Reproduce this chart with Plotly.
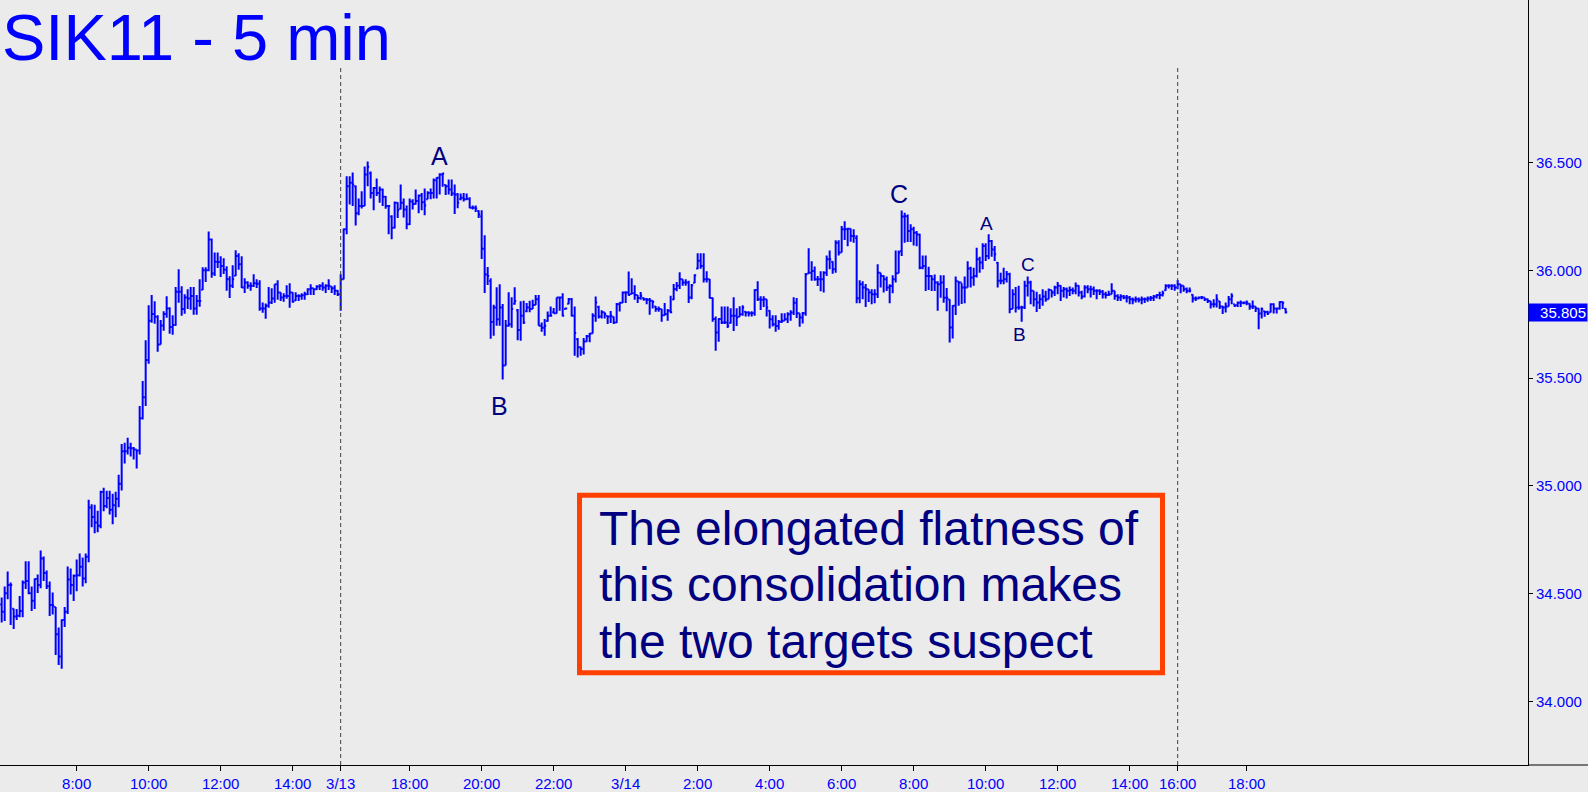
import plotly.graph_objects as go

# ---------------- data (5-minute OHLC bars, SIK11) ----------------
highs = [
34.483,34.534,34.603,34.552,34.432,34.429,34.489,34.562,34.651,34.651,34.534,34.571,34.589,34.700,34.673,34.608,34.557,34.506,34.438,34.344,
34.381,34.438,34.626,34.617,34.589,34.659,34.687,34.668,34.687,34.936,34.915,34.913,34.885,34.978,34.992,34.978,34.978,34.964,34.973,35.052,
35.195,35.200,35.223,35.200,35.181,35.169,35.371,35.487,35.676,35.838,35.885,35.857,35.792,35.769,35.810,35.880,35.829,35.792,35.922,36.005,
35.926,35.889,35.912,35.922,35.922,35.885,35.959,36.014,36.014,36.180,36.148,36.083,36.083,36.065,36.056,36.019,35.972,36.023,36.093,36.079,
36.065,35.963,35.949,35.945,35.982,35.958,35.954,35.851,35.846,35.923,35.917,35.935,35.954,35.898,35.894,35.931,35.940,35.898,35.898,35.889,
35.894,35.900,35.917,35.935,35.917,35.931,35.935,35.945,35.935,35.958,35.926,35.931,35.909,35.982,36.194,36.436,36.436,36.453,36.393,36.333,
36.366,36.481,36.504,36.458,36.386,36.426,36.389,36.379,36.344,36.301,36.255,36.319,36.315,36.398,36.333,36.301,36.333,36.329,36.375,36.352,
36.359,36.379,36.367,36.379,36.426,36.432,36.450,36.452,36.398,36.421,36.421,36.398,36.358,36.356,36.359,36.356,36.339,36.301,36.301,36.278,
36.278,36.162,36.015,35.963,35.840,35.921,35.935,35.844,35.769,35.898,35.875,35.921,35.820,35.857,35.859,35.848,35.859,35.863,35.885,35.885,
35.758,35.774,35.809,35.832,35.825,35.874,35.879,35.894,35.828,35.871,35.871,35.832,35.686,35.647,35.686,35.700,35.709,35.801,35.879,35.835,
35.815,35.805,35.789,35.811,35.786,35.848,35.852,35.902,35.903,35.994,35.963,35.931,35.885,35.899,35.874,35.871,35.871,35.860,35.834,35.832,
35.820,35.848,35.820,35.882,35.936,35.946,35.991,35.959,35.959,35.951,35.937,35.982,36.079,36.079,36.079,35.996,35.960,35.874,35.786,35.778,
35.832,35.832,35.832,35.824,35.875,35.824,35.833,35.838,35.810,35.810,35.810,35.912,35.949,35.880,35.880,35.866,35.815,35.792,35.792,35.770,
35.801,35.801,35.806,35.815,35.875,35.872,35.801,35.807,35.988,36.102,36.042,36.018,35.974,35.995,35.995,36.069,36.092,36.042,36.139,36.139,
36.205,36.227,36.197,36.194,36.190,36.162,35.954,35.949,35.937,35.912,35.912,35.912,36.028,35.989,35.977,35.971,35.935,35.977,36.092,36.092,
36.277,36.267,36.259,36.213,36.202,36.182,36.169,36.069,36.069,36.017,35.977,35.980,35.949,35.977,35.977,35.918,35.866,35.838,35.971,35.949,
35.940,35.971,36.042,36.016,36.012,36.105,36.063,36.125,36.125,36.167,36.140,36.113,36.039,35.989,36.012,35.997,35.989,35.912,35.923,35.928,
35.835,35.951,35.971,35.951,35.905,35.900,35.889,35.912,35.905,35.915,35.909,35.928,35.946,35.931,35.923,35.920,35.925,35.920,35.943,35.931,
35.905,35.931,35.931,35.928,35.925,35.912,35.912,35.909,35.900,35.905,35.940,35.905,35.889,35.889,35.885,35.885,35.881,35.874,35.878,35.874,
35.878,35.874,35.878,35.881,35.885,35.889,35.900,35.905,35.935,35.935,35.935,35.935,35.955,35.935,35.928,35.920,35.920,35.889,35.878,35.878,
35.881,35.874,35.869,35.858,35.866,35.889,35.858,35.835,35.851,35.881,35.894,35.843,35.855,35.860,35.855,35.860,35.847,35.860,35.832,35.824,
35.827,35.812,35.812,35.847,35.847,35.827,35.857,35.855,35.824]

lows = [
34.367,34.374,34.475,34.355,34.337,34.378,34.391,34.391,34.522,34.498,34.420,34.429,34.503,34.525,34.559,34.522,34.397,34.404,34.216,34.170,
34.152,34.346,34.406,34.497,34.466,34.512,34.580,34.534,34.549,34.646,34.808,34.781,34.785,34.804,34.882,34.896,34.868,34.822,34.855,34.901,
34.979,35.104,35.146,35.137,35.123,35.081,35.146,35.308,35.371,35.567,35.757,35.752,35.622,35.656,35.720,35.780,35.706,35.701,35.743,35.849,
35.789,35.798,35.821,35.817,35.794,35.794,35.831,35.909,35.946,35.995,35.965,35.974,36.011,35.969,35.983,35.905,35.872,35.918,35.974,36.002,
35.918,35.895,35.914,35.905,35.923,35.918,35.812,35.803,35.775,35.826,35.844,35.849,35.863,35.858,35.854,35.868,35.826,35.849,35.858,35.858,
35.863,35.863,35.886,35.886,35.886,35.909,35.909,35.905,35.895,35.909,35.895,35.886,35.881,35.812,35.957,36.167,36.305,36.298,36.208,36.255,
36.287,36.298,36.390,36.333,36.279,36.344,36.313,36.298,36.285,36.167,36.144,36.194,36.242,36.282,36.245,36.190,36.210,36.282,36.305,36.264,
36.279,36.255,36.329,36.329,36.333,36.333,36.352,36.387,36.349,36.352,36.344,36.261,36.288,36.325,36.319,36.325,36.288,36.282,36.270,36.242,
36.052,35.895,35.932,35.682,35.696,35.743,35.743,35.493,35.558,35.738,35.733,35.840,35.676,35.673,35.751,35.805,35.805,35.820,35.839,35.743,
35.715,35.697,35.761,35.786,35.800,35.800,35.812,35.786,35.818,35.843,35.786,35.604,35.596,35.604,35.609,35.669,35.666,35.707,35.761,35.777,
35.777,35.777,35.751,35.755,35.751,35.755,35.809,35.848,35.848,35.882,35.889,35.863,35.848,35.863,35.859,35.843,35.794,35.823,35.808,35.808,
35.761,35.789,35.766,35.801,35.862,35.903,35.913,35.928,35.928,35.848,35.866,35.940,36.005,36.007,35.943,35.943,35.869,35.761,35.627,35.669,
35.751,35.751,35.732,35.753,35.719,35.742,35.784,35.789,35.786,35.786,35.786,35.789,35.858,35.816,35.830,35.786,35.730,35.739,35.715,35.724,
35.756,35.766,35.756,35.766,35.793,35.779,35.738,35.753,35.789,35.984,35.952,35.952,35.927,35.903,35.897,35.974,36.005,35.984,35.989,36.069,
36.082,36.140,36.112,36.132,36.128,35.847,35.847,35.866,35.830,35.853,35.843,35.847,35.872,35.920,35.897,35.904,35.847,35.894,35.943,35.986,
36.066,36.128,36.131,36.131,36.115,36.112,36.005,36.005,35.904,35.909,35.904,35.904,35.812,35.873,35.850,35.810,35.665,35.684,35.793,35.835,
35.844,35.847,35.920,35.920,35.928,35.966,35.989,36.005,36.043,36.051,36.063,36.043,35.920,35.935,35.935,35.943,35.801,35.820,35.804,35.817,
35.761,35.820,35.878,35.843,35.832,35.807,35.820,35.835,35.854,35.866,35.874,35.881,35.889,35.858,35.874,35.869,35.881,35.889,35.889,35.878,
35.866,35.874,35.894,35.874,35.885,35.866,35.885,35.869,35.869,35.881,35.889,35.863,35.858,35.858,35.866,35.851,35.843,35.843,35.851,35.851,
35.843,35.848,35.854,35.858,35.858,35.869,35.866,35.878,35.905,35.915,35.909,35.905,35.912,35.894,35.900,35.894,35.897,35.851,35.858,35.866,
35.866,35.858,35.848,35.823,35.827,35.827,35.820,35.797,35.804,35.832,35.843,35.830,35.830,35.830,35.843,35.838,35.817,35.820,35.807,35.727,
35.776,35.784,35.793,35.804,35.800,35.800,35.817,35.820,35.800]

closes = [
34.417,34.502,34.540,34.540,34.394,34.398,34.420,34.552,34.559,34.502,34.468,34.568,34.540,34.663,34.596,34.535,34.448,34.445,34.312,34.209,
34.378,34.417,34.566,34.540,34.583,34.586,34.625,34.571,34.671,34.900,34.856,34.830,34.815,34.972,34.907,34.944,34.890,34.910,34.941,35.010,
35.161,35.161,35.177,35.175,35.169,35.164,35.314,35.411,35.584,35.766,35.797,35.784,35.656,35.744,35.797,35.823,35.737,35.746,35.900,35.900,
35.820,35.874,35.869,35.881,35.823,35.858,35.858,36.000,36.000,36.143,35.985,36.040,36.039,36.020,36.002,35.958,35.928,35.958,36.066,36.028,
35.920,35.943,35.928,35.928,35.940,35.938,35.823,35.823,35.835,35.851,35.869,35.935,35.897,35.874,35.881,35.881,35.897,35.854,35.881,35.881,
35.884,35.889,35.912,35.917,35.912,35.925,35.928,35.920,35.928,35.928,35.917,35.905,35.889,35.958,36.190,36.390,36.406,36.398,36.264,36.298,
36.298,36.444,36.480,36.359,36.382,36.359,36.375,36.341,36.298,36.298,36.197,36.313,36.278,36.313,36.282,36.213,36.319,36.308,36.321,36.347,
36.316,36.301,36.359,36.359,36.418,36.429,36.444,36.449,36.390,36.375,36.356,36.352,36.313,36.336,36.329,36.332,36.290,36.290,36.287,36.259,
36.100,35.980,35.974,35.760,35.827,35.773,35.827,35.558,35.743,35.750,35.820,35.858,35.723,35.789,35.758,35.828,35.820,35.839,35.866,35.743,
35.734,35.743,35.789,35.789,35.801,35.874,35.874,35.789,35.823,35.866,35.789,35.709,35.643,35.635,35.670,35.694,35.707,35.789,35.851,35.786,
35.805,35.797,35.786,35.789,35.758,35.843,35.850,35.897,35.897,35.886,35.894,35.885,35.872,35.882,35.866,35.863,35.859,35.854,35.820,35.820,
35.792,35.797,35.812,35.805,35.913,35.928,35.959,35.943,35.943,35.874,35.931,35.977,36.044,36.020,35.959,35.959,35.871,35.774,35.712,35.774,
35.758,35.758,35.743,35.789,35.789,35.781,35.796,35.827,35.804,35.801,35.801,35.909,35.866,35.863,35.866,35.827,35.773,35.750,35.742,35.761,
35.766,35.773,35.796,35.804,35.850,35.801,35.781,35.801,35.981,35.989,35.997,35.958,35.958,35.958,35.989,36.051,36.051,36.005,36.128,36.082,
36.190,36.190,36.193,36.159,36.159,35.870,35.935,35.920,35.912,35.897,35.889,35.889,35.989,35.974,35.958,35.920,35.927,35.958,35.986,36.082,
36.250,36.251,36.182,36.190,36.174,36.166,36.012,36.020,35.974,35.974,35.958,35.943,35.935,35.943,35.873,35.873,35.735,35.835,35.951,35.943,
35.920,35.920,36.008,35.966,35.974,36.051,36.036,36.113,36.066,36.136,36.097,36.074,35.951,35.951,35.959,35.982,35.820,35.889,35.827,35.827,
35.827,35.928,35.943,35.905,35.866,35.851,35.866,35.878,35.866,35.909,35.897,35.920,35.928,35.905,35.912,35.905,35.909,35.905,35.928,35.897,
35.878,35.920,35.912,35.912,35.905,35.905,35.900,35.889,35.885,35.889,35.905,35.881,35.874,35.878,35.874,35.874,35.866,35.863,35.866,35.863,
35.866,35.866,35.869,35.872,35.878,35.885,35.885,35.894,35.928,35.928,35.928,35.920,35.935,35.928,35.912,35.905,35.905,35.869,35.869,35.874,
35.874,35.866,35.858,35.843,35.843,35.866,35.832,35.827,35.832,35.866,35.881,35.838,35.850,35.850,35.850,35.850,35.832,35.832,35.823,35.800,
35.820,35.807,35.800,35.843,35.823,35.823,35.853,35.850,35.805]

opens = [
34.450,34.417,34.502,34.540,34.430,34.394,34.398,34.420,34.552,34.559,34.502,34.468,34.568,34.540,34.663,34.596,34.535,34.448,34.438,34.312,
34.209,34.378,34.417,34.566,34.540,34.583,34.586,34.625,34.571,34.671,34.900,34.856,34.830,34.815,34.972,34.907,34.944,34.890,34.910,34.941,
35.010,35.161,35.161,35.177,35.175,35.169,35.164,35.314,35.411,35.584,35.766,35.797,35.784,35.656,35.744,35.797,35.823,35.737,35.746,35.900,
35.900,35.820,35.874,35.869,35.881,35.823,35.858,35.910,36.000,36.000,36.143,35.985,36.040,36.039,36.020,36.002,35.958,35.928,35.975,36.066,
36.028,35.920,35.943,35.928,35.928,35.940,35.938,35.823,35.823,35.835,35.851,35.869,35.935,35.897,35.874,35.881,35.881,35.897,35.860,35.881,
35.881,35.884,35.889,35.912,35.917,35.912,35.925,35.928,35.920,35.928,35.925,35.917,35.905,35.889,35.958,36.190,36.390,36.406,36.390,36.264,
36.298,36.298,36.444,36.450,36.359,36.382,36.359,36.375,36.341,36.298,36.250,36.197,36.313,36.285,36.313,36.282,36.213,36.319,36.308,36.321,
36.347,36.316,36.330,36.359,36.359,36.418,36.429,36.444,36.395,36.390,36.375,36.356,36.352,36.330,36.336,36.329,36.332,36.290,36.290,36.275,
36.250,36.100,35.980,35.950,35.760,35.827,35.773,35.827,35.558,35.743,35.750,35.845,35.815,35.723,35.789,35.810,35.828,35.820,35.839,35.866,
35.743,35.734,35.765,35.789,35.805,35.801,35.874,35.874,35.820,35.845,35.866,35.789,35.680,35.643,35.635,35.670,35.694,35.707,35.789,35.830,
35.786,35.805,35.788,35.786,35.785,35.758,35.843,35.850,35.897,35.897,35.890,35.894,35.885,35.872,35.872,35.866,35.863,35.859,35.832,35.820,
35.820,35.792,35.797,35.812,35.865,35.913,35.928,35.959,35.943,35.943,35.874,35.942,36.008,36.044,36.020,35.959,35.959,35.871,35.774,35.712,
35.774,35.758,35.758,35.755,35.789,35.789,35.785,35.796,35.808,35.804,35.801,35.801,35.909,35.866,35.863,35.866,35.812,35.773,35.750,35.742,
35.761,35.766,35.773,35.796,35.804,35.850,35.801,35.781,35.801,35.985,35.989,35.997,35.958,35.958,35.958,35.989,36.051,36.040,36.005,36.128,
36.082,36.190,36.190,36.193,36.159,36.150,35.870,35.935,35.920,35.912,35.897,35.889,35.889,35.989,35.974,35.958,35.920,35.927,35.958,35.986,
36.090,36.250,36.251,36.182,36.190,36.174,36.166,36.012,36.020,35.974,35.974,35.958,35.943,35.935,35.943,35.873,35.865,35.735,35.835,35.948,
35.943,35.920,35.920,36.008,35.966,35.974,36.051,36.036,36.113,36.066,36.136,36.097,36.035,35.951,35.951,35.959,35.982,35.820,35.889,35.827,
35.827,35.827,35.928,35.943,35.905,35.866,35.851,35.866,35.878,35.866,35.909,35.897,35.920,35.928,35.905,35.912,35.905,35.909,35.905,35.928,
35.897,35.878,35.920,35.912,35.912,35.905,35.905,35.900,35.889,35.885,35.889,35.905,35.881,35.874,35.878,35.874,35.874,35.866,35.863,35.866,
35.863,35.866,35.866,35.869,35.872,35.878,35.885,35.885,35.907,35.928,35.928,35.928,35.920,35.935,35.928,35.912,35.905,35.887,35.869,35.869,
35.874,35.874,35.866,35.858,35.843,35.843,35.856,35.832,35.827,35.832,35.866,35.842,35.838,35.850,35.850,35.850,35.845,35.832,35.832,35.823,
35.800,35.810,35.807,35.805,35.843,35.823,35.823,35.853,35.822]

bar_index = list(range(len(closes)))

# x-axis time labels (bar index -> label)
tick_bars = [25, 49, 73, 97, 113, 136, 160, 184, 208, 232, 256, 280, 304, 328, 352, 376, 392, 415]
tick_labels = ["8:00", "10:00", "12:00", "14:00", "3/13", "18:00", "20:00", "22:00", "3/14",
               "2:00", "4:00", "6:00", "8:00", "10:00", "12:00", "14:00", "16:00", "18:00"]

# session separators (bar index)
session_breaks = [113, 392]

# price axis ticks
price_ticks = [34.0, 34.5, 35.0, 35.5, 36.0, 36.5]
last_price = 35.805

# wave labels: text, bar index, price, font size
wave_text = ["A", "B", "C", "A", "B", "C"]
wave_bar = [146.1, 165.8, 299.1, 328.4, 339.4, 342.1]
wave_price = [36.532, 35.371, 36.352, 36.217, 35.704, 36.028]
wave_size = [25, 25, 25, 19, 19, 19]

title_text = "SIK11 - 5 min"
note_lines = ["The elongated flatness of", "this consolidation makes", "the two targets suspect"]

# ---------------- styling ----------------
W, H = 1588, 792
ML, MR, MT, MB = 0, 60, 0, 25
PW, PH = W - ML - MR, H - MT - MB
BG = "rgb(235,235,235)"
BLUE = "#0000FF"
NAVY = "#000080"
FONT = "Liberation Sans, Arial, sans-serif"

def px_x(px):
    return px / PW

def px_y(py):
    return 1 - py / PH

fig = go.Figure()
fig.add_trace(go.Ohlc(
    x=bar_index, open=opens, high=highs, low=lows, close=closes,
    increasing=dict(line=dict(color=BLUE, width=2)),
    decreasing=dict(line=dict(color=BLUE, width=2)),
    tickwidth=0.5, hoverinfo="skip", showlegend=False,
))

shapes = []
for b in session_breaks:
    shapes.append(dict(type="line", xref="x", yref="paper", x0=b, x1=b,
                       y0=0, y1=px_y(67), line=dict(color="#404040", width=1, dash="4px,3px")))
# x-axis line continues under the price scale
shapes.append(dict(type="line", xref="paper", yref="paper", x0=1, x1=W / PW, y0=0, y1=0,
                   line=dict(color="black", width=1)))
# note box
shapes.append(dict(type="rect", xref="paper", yref="paper",
                   x0=px_x(579.5), x1=px_x(1162.5), y0=px_y(674.5), y1=px_y(496.5),
                   line=dict(color="#FF4000", width=5), fillcolor="rgba(0,0,0,0)"))

annotations = []
annotations.append(dict(text=title_text, xref="paper", yref="paper", x=px_x(1), y=1,
                        xanchor="left", yanchor="top", showarrow=False, borderpad=0,
                        font=dict(family=FONT, size=65, color=BLUE)))
for k, line in enumerate(note_lines):
    annotations.append(dict(text=line, xref="paper", yref="paper", x=px_x(597),
                            y=px_y(530 + 56.5 * k),
                            xanchor="left", yanchor="middle", align="left", showarrow=False,
                            font=dict(family=FONT, size=48, color=NAVY)))
for t, bx, py, s in zip(wave_text, wave_bar, wave_price, wave_size):
    annotations.append(dict(text=t, x=bx, y=py, xref="x", yref="y", showarrow=False,
                            xanchor="center", yanchor="middle",
                            font=dict(family=FONT, size=s, color=NAVY)))
annotations.append(dict(text=f"{last_price:.3f}", xref="paper", yref="y", x=1, y=last_price,
                        xanchor="left", yanchor="middle", showarrow=False, align="right",
                        bgcolor=BLUE, width=56, height=15, borderpad=1,
                        font=dict(family=FONT, size=15, color="white")))

x_lo = (0 - 1.67) / 3
x_hi = (PW - 1.67) / 3
y_hi = 36.5 + 162.9 / 216.2
y_lo = 36.5 - (PH - 162.9) / 216.2

fig.update_layout(
    width=W, height=H,
    margin=dict(l=ML, r=MR, t=MT, b=MB, pad=0),
    paper_bgcolor=BG, plot_bgcolor=BG,
    shapes=shapes, annotations=annotations,
    xaxis=dict(range=[x_lo, x_hi], tickmode="array", tickvals=tick_bars, ticktext=tick_labels,
               showgrid=False, zeroline=False, showline=True, linecolor="black", linewidth=1,
               ticks="outside", ticklen=5, tickcolor="black",
               tickfont=dict(family=FONT, size=15, color=BLUE),
               rangeslider=dict(visible=False), fixedrange=True),
    yaxis=dict(range=[y_lo, y_hi], side="right", tickmode="array", tickvals=price_ticks,
               tickformat=".3f", showgrid=False, zeroline=False, showline=True,
               linecolor="black", linewidth=1, ticks="outside", ticklen=4, tickcolor="black",
               tickfont=dict(family=FONT, size=15, color=BLUE), fixedrange=True),
    font=dict(family=FONT),
)

fig.write_html("out.html", config={"displayModeBar": False},
               post_script="document.body.style.margin='0';document.body.style.overflow='hidden';")
